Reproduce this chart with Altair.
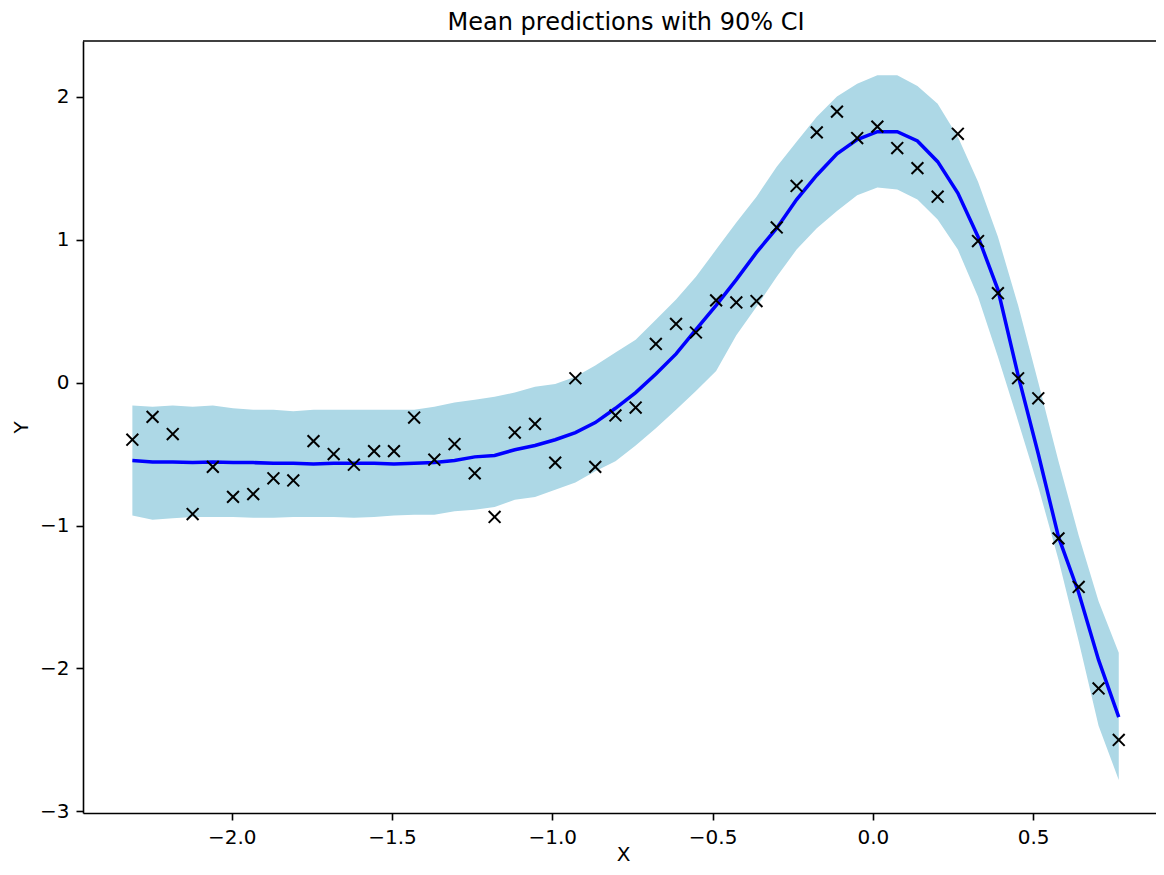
import altair as alt
import pandas as pd

# x positions of the observations (also the evaluation grid)
x_vals = [-2.310, -2.247, -2.184, -2.122, -2.059, -1.996, -1.933, -1.870, -1.808, -1.745,
          -1.682, -1.619, -1.556, -1.494, -1.431, -1.368, -1.305, -1.242, -1.180, -1.117,
          -1.054, -0.991, -0.928, -0.866, -0.803, -0.740, -0.677, -0.614, -0.552, -0.489,
          -0.426, -0.363, -0.300, -0.238, -0.175, -0.112, -0.049, 0.014, 0.076, 0.139,
          0.202, 0.265, 0.328, 0.390, 0.453, 0.516, 0.579, 0.642, 0.704, 0.767]

# observed Y values (black crosses)
y_obs = [-0.40, -0.24, -0.36, -0.92, -0.59, -0.80, -0.78, -0.67, -0.685, -0.41,
         -0.50, -0.575, -0.48, -0.48, -0.245, -0.54, -0.43, -0.635, -0.94, -0.35,
         -0.29, -0.56, 0.03, -0.59, -0.23, -0.175, 0.27, 0.41, 0.35, 0.575,
         0.56, 0.57, 1.085, 1.375, 1.75, 1.895, 1.71, 1.79, 1.64, 1.50,
         1.30, 1.74, 0.99, 0.625, 0.03, -0.11, -1.09, -1.43, -2.14, -2.50]

# mean prediction (blue line)
y_mean = [-0.545, -0.555, -0.555, -0.56, -0.555, -0.56, -0.56, -0.565, -0.565, -0.57,
          -0.565, -0.565, -0.565, -0.57, -0.565, -0.56, -0.545, -0.52, -0.51, -0.47,
          -0.44, -0.40, -0.35, -0.28, -0.18, -0.07, 0.06, 0.20, 0.37, 0.54,
          0.72, 0.91, 1.08, 1.28, 1.45, 1.60, 1.70, 1.755, 1.755, 1.69,
          1.545, 1.325, 1.02, 0.65, 0.05, -0.50, -1.08, -1.47, -1.94, -2.34]

# 90% CI bounds (light blue band)
y_low = [-0.93, -0.96, -0.95, -0.94, -0.94, -0.94, -0.945, -0.945, -0.94, -0.94,
         -0.94, -0.945, -0.94, -0.93, -0.925, -0.925, -0.90, -0.89, -0.87, -0.82,
         -0.80, -0.75, -0.70, -0.62, -0.55, -0.44, -0.32, -0.19, -0.06, 0.08,
         0.33, 0.53, 0.74, 0.93, 1.08, 1.20, 1.31, 1.365, 1.35, 1.28,
         1.14, 0.93, 0.60, 0.18, -0.27, -0.73, -1.24, -1.81, -2.40, -2.78]
y_high = [-0.16, -0.17, -0.16, -0.17, -0.16, -0.18, -0.19, -0.19, -0.20, -0.19,
          -0.19, -0.19, -0.19, -0.19, -0.19, -0.17, -0.14, -0.12, -0.10, -0.07,
          -0.03, -0.01, 0.04, 0.12, 0.21, 0.30, 0.44, 0.58, 0.74, 0.93,
          1.12, 1.30, 1.51, 1.685, 1.86, 2.00, 2.09, 2.15, 2.15, 2.075,
          1.95, 1.72, 1.405, 1.02, 0.54, 0.00, -0.55, -1.07, -1.53, -1.89]

x_ticks = [-2.0, -1.5, -1.0, -0.5, 0.0, 0.5]
y_ticks = [-3, -2, -1, 0, 1, 2]

df = pd.DataFrame({"x": x_vals, "obs": y_obs, "mean": y_mean, "lo": y_low, "hi": y_high})

W, H = 1080, 772
xscale = alt.Scale(domain=[-2.464, 0.905], nice=False, zero=False)
yscale = alt.Scale(domain=[-3.011, 2.389], nice=False, zero=False)

xenc = alt.X("x:Q", scale=xscale, title="X",
             axis=alt.Axis(values=x_ticks, format=".1f", titlePadding=-3))
base = alt.Chart(df)

band = base.mark_area(color="#add8e6", opacity=1).encode(
    x=xenc,
    y=alt.Y("lo:Q", scale=yscale, title="Y", axis=alt.Axis(values=y_ticks, format="d")),
    y2="hi:Q",
)

line = base.mark_line(color="#0000ff", strokeWidth=3.5).encode(
    x=alt.X("x:Q", scale=xscale),
    y=alt.Y("mean:Q", scale=yscale),
)

points = base.mark_point(
    shape="M-1,-1L1,1M-1,1L1,-1", size=140, filled=False,
    stroke="black", strokeWidth=2, opacity=1,
).encode(
    x=alt.X("x:Q", scale=xscale),
    y=alt.Y("obs:Q", scale=yscale),
)

top = alt.Chart(pd.DataFrame({"a": [0]})).mark_rule(color="black", strokeWidth=1.6).encode(
    x=alt.value(0), x2=alt.value(W), y=alt.value(0)
)

chart = alt.layer(band, line, points, top).properties(
    width=W, height=H,
    title=alt.TitleParams("Mean predictions with 90% CI", fontSize=24, font="DejaVu Sans",
                          fontWeight="normal", color="black", offset=5, dx=3),
    autosize=alt.AutoSizeParams(type="none"),
    padding={"left": 75, "top": 33, "right": -7, "bottom": 52},
).configure_view(stroke=None).configure_axis(
    grid=False,
    labelFont="DejaVu Sans", titleFont="DejaVu Sans",
    labelFontSize=20, titleFontSize=20, titleFontWeight="normal",
    labelColor="black", titleColor="black",
    domainColor="black", domainWidth=1.6,
    tickColor="black", tickWidth=1.6, tickSize=7,
    labelPadding=7, titlePadding=8,
)

chart.save("out.html", embed_options={"renderer": "svg", "actions": False})
